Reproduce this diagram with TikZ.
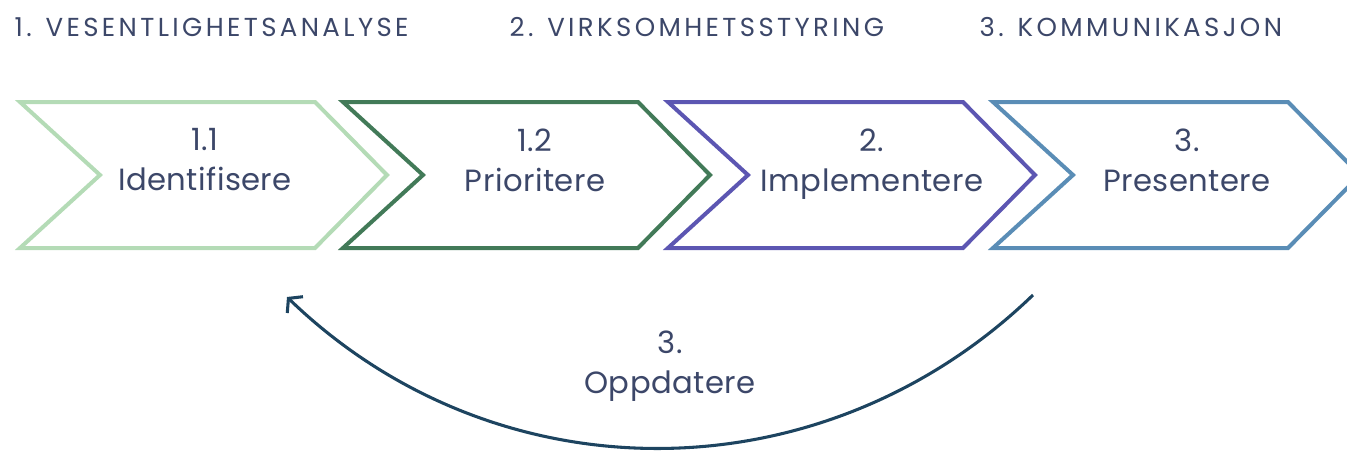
\documentclass[tikz,border=0pt]{standalone}
\usepackage{fontspec}
\setmainfont{Poppins}
\newfontfamily\phasefont{Poppins}[LetterSpace=13]
\newfontfamily\stepfont{Poppins}[LetterSpace=1.5]
\usetikzlibrary{arrows.meta}

\definecolor{identgreen}{HTML}{B4DBB6}
\definecolor{priogreen}{HTML}{427A58}
\definecolor{implviolet}{HTML}{5C56B2}
\definecolor{presblue}{HTML}{5A8DB6}
\definecolor{loopnavy}{HTML}{1D4460}
\definecolor{labelslate}{HTML}{3C4769}

\tikzset{
    chevron/.style={line width=3pt, line join=miter},
    phase/.style={anchor=base west, text=labelslate, font=\phasefont\fontsize{19.5}{22}\selectfont},
    steplabel/.style={anchor=north, align=center, text=labelslate, font=\stepfont\fontsize{23}{30}\selectfont},
    loop arrow/.style={line width=2.3pt, draw=loopnavy, -{Straight Barb[length=7pt,width=17pt]}},
}

\begin{document}
\begin{tikzpicture}[x=0.75pt, y=0.75pt]
        \useasboundingbox (0,0) rectangle (1347,-454);
        % phases
        \node[phase] (ph1) at (10,-36)  {1. VESENTLIGHETSANALYSE};
        \node[phase] (ph2) at (505,-36) {2. VIRKSOMHETSSTYRING};
        \node[phase] (ph3) at (975,-36) {3. KOMMUNIKASJON};
        % chevrons
        \draw[chevron, identgreen] (20,-102)  -- ++(295,0) -- ++(72,-73) -- ++(-72,-73) -- ++(-295,0) -- ++(80,73) -- cycle;
        \draw[chevron, priogreen]  (343,-102) -- ++(295,0) -- ++(72,-73) -- ++(-72,-73) -- ++(-295,0) -- ++(80,73) -- cycle;
        \draw[chevron, implviolet] (668,-102) -- ++(295,0) -- ++(72,-73) -- ++(-72,-73) -- ++(-295,0) -- ++(80,73) -- cycle;
        \draw[chevron, presblue]   (993,-102) -- ++(295,0) -- ++(72,-73) -- ++(-72,-73) -- ++(-295,0) -- ++(80,73) -- cycle;
        % step texts
        \node[steplabel] (identify)   at (205,-124)  {1.1\\Identifisere};
        \node[steplabel] (prioritize) at (535,-124)  {1.2\\Prioritere};
        \node[steplabel] (implement)  at (872,-124)  {2.\\Implementere};
        \node[steplabel] (present)    at (1187,-124) {3.\\Presentere};
        \node[steplabel] (update)     at (670,-326)  {3.\\Oppdatere};
        % update loop
        \coordinate (loop-from) at (1033,-295);
        \coordinate (loop-to)   at (287,-297);
        \draw[loop arrow] (loop-from) to[out=224, in=-44] (loop-to);
\end{tikzpicture}
\end{document}
